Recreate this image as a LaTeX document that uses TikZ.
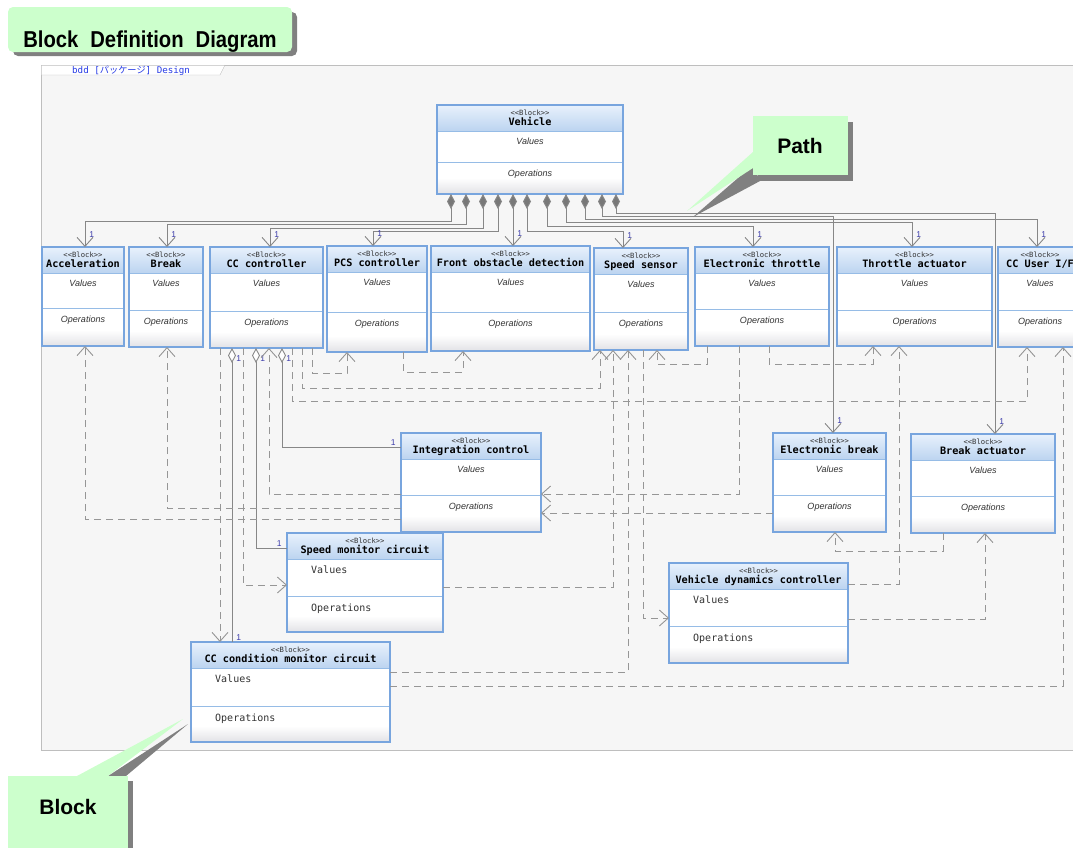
\documentclass[tikz,border=0pt]{standalone}
\usepackage{fontspec}
\usetikzlibrary{arrows.meta}
\newfontfamily\blkmono{DejaVu Sans Mono}
\newfontfamily\blksans{Liberation Sans}
\newfontfamily\titlefont[FakeStretch=0.88]{Liberation Sans}
\newfontfamily\cjk{Noto Sans CJK JP}
\definecolor{blkborder}{RGB}{120,165,222}
\definecolor{divblue}{RGB}{150,188,230}
\definecolor{hdtop}{RGB}{232,241,252}
\definecolor{hdbot}{RGB}{188,212,240}
\definecolor{opsbot}{RGB}{226,226,230}
\definecolor{linegray}{RGB}{135,135,135}
\definecolor{dashgray}{RGB}{150,150,150}
\definecolor{diagray}{RGB}{120,120,120}
\definecolor{txtgray}{RGB}{50,50,50}
\definecolor{multblue}{RGB}{60,60,170}
\definecolor{framebg}{RGB}{246,246,246}
\definecolor{framebd}{RGB}{190,190,190}
\definecolor{tabblue}{RGB}{40,60,230}
\definecolor{callgreen}{RGB}{204,255,204}
\definecolor{callshadow}{RGB}{128,128,128}

\newcommand{\cmpit}[5]{%
  \node[valit] (#1v) at ({#2+#4/2},{#3+39}) {Values};
  \node[valit] (#1o) at ({#2+#4/2},{#3+#5+14}) {Operations};}
\newcommand{\cmpmono}[5]{%
  \node[valmono] (#1v) at ({#2+24},{#3+40}) {Values};
  \node[valmono] (#1o) at ({#2+24},{#3+#5+15}) {Operations};}
\newcommand{\umlblock}[8]{%
  \fill[white] (#2,#3) rectangle ++(#4,#5);
  \shade[top color=white, bottom color=opsbot] ({#2},{#3+#5-16}) rectangle ++(#4,16);
  \shade[top color=hdtop, bottom color=hdbot] (#2,#3) rectangle ++(#4,26);
  \draw[divline] ({#2},{#3+26}) -- ++(#4,0);
  \draw[divline] ({#2},{#3+#6}) -- ++(#4,0);
  \node[blockbody, minimum width=#4, minimum height=#5] (#1) at (#2,#3) {};
  \node[stereo] (#1s) at ({#2+#4/2},{#3+10}) {<{}<Block>{}>};
  \node[bname] (#1n) at ({#2+#4/2},{#3+20}) {#7};
  #8{#1}{#2}{#3}{#4}{#6}}

\begin{document}
\begin{tikzpicture}[
x=1pt, y=-1pt,
blockbody/.style={draw=blkborder, line width=1.2pt, inner sep=0pt, outer sep=0pt, anchor=north west},
divline/.style={draw=divblue, line width=0.8pt},
stereo/.style={font=\blkmono\fontsize{7.2}{7}\selectfont, text=black!80, inner sep=0pt, anchor=base},
bname/.style={font=\blkmono\bfseries\fontsize{10.2}{10}\selectfont, inner sep=0pt, anchor=base},
valit/.style={font=\blksans\itshape\fontsize{9}{9}\selectfont, text=txtgray, inner sep=0pt, anchor=base},
valmono/.style={font=\blkmono\fontsize{10}{10}\selectfont, text=txtgray, inner sep=0pt, anchor=base west},
comp/.style={draw=linegray, line width=0.9pt, arrows={Diamond[length=15pt,width=8pt,fill=diagray]-Straight Barb[length=9pt,width=16pt]}},
aggr/.style={draw=linegray, line width=0.9pt, arrows={Diamond[length=15pt,width=8pt,fill=white]-}},
dep/.style={draw=dashgray, line width=0.9pt, dash pattern=on 7pt off 5pt, arrows={-Straight Barb[length=9pt,width=16pt]}},
mult/.style={font=\blksans\fontsize{8.5}{8}\selectfont, text=multblue, inner sep=0pt},
callout/.style={fill=callgreen},
calltext/.style={font=\blksans\bfseries\fontsize{21}{21}\selectfont, inner sep=0pt, anchor=base},
]
\useasboundingbox (0,0) rectangle (1073,847);
\clip (0,0) rectangle (1073,847);

\fill[framebg] (41,65) rectangle (1090,750);
\draw[framebd] (41,750) -- (41,65) -- (1090,65);
\draw[framebd] (1090,750) -- (41,750);
\fill[white] (41.5,65.5) -- (224.5,65.5) -- (219.5,75) -- (41.5,75) -- cycle;
\draw[framebd] (41,75) -- (220,75) -- (225,65);
\node[font=\blkmono\fontsize{9.2}{9}\selectfont, text=tabblue, anchor=base west, inner sep=0pt] (frame) at (72,73) {bdd [{\cjk パッケージ}] Design};

\umlblock{veh}{437}{105}{186}{89}{57}{Vehicle}{\cmpit}
\umlblock{acc}{42}{247}{82}{99}{61}{Acceleration}{\cmpit}
\umlblock{brk}{129}{247}{74}{100}{63}{Break}{\cmpit}
\umlblock{ccc}{210}{247}{113}{101}{64}{CC controller}{\cmpit}
\umlblock{pcs}{327}{246}{100}{106}{66}{PCS controller}{\cmpit}
\umlblock{front}{431}{246}{159}{105}{66}{Front obstacle detection}{\cmpit}
\umlblock{spd}{594}{248}{94}{102}{64}{Speed sensor}{\cmpit}
\umlblock{ethr}{695}{247}{134}{99}{62}{Electronic throttle}{\cmpit}
\umlblock{tact}{837}{247}{155}{99}{63}{Throttle actuator}{\cmpit}
\umlblock{ccui}{998}{247}{84}{100}{63}{CC User I/F}{\cmpit}
\umlblock{integ}{401}{433}{140}{99}{62}{Integration control}{\cmpit}
\umlblock{ebrk}{773}{433}{113}{99}{62}{Electronic break}{\cmpit}
\umlblock{bact}{911}{434}{144}{99}{62}{Break actuator}{\cmpit}
\umlblock{smc}{287}{533}{156}{99}{63}{Speed monitor circuit}{\cmpmono}
\umlblock{vdc}{669}{563}{179}{100}{63}{Vehicle dynamics controller}{\cmpmono}
\umlblock{ccm}{191}{642}{199}{100}{64}{CC condition monitor circuit}{\cmpmono}

\draw[comp] (veh.south -| 451,0) -- ++(0,27) -| (acc.north -| 85,0) node[mult, at end, anchor=south west, xshift=4pt, yshift=9pt] (m1) {1};
\draw[comp] (veh.south -| 466,0) -- ++(0,30) -| (brk.north -| 167,0) node[mult, at end, anchor=south west, xshift=4pt, yshift=9pt] (m2) {1};
\draw[comp] (veh.south -| 483,0) -- ++(0,34) -| (ccc.north -| 270,0) node[mult, at end, anchor=south west, xshift=4pt, yshift=9pt] (m3) {1};
\draw[comp] (veh.south -| 498,0) -- ++(0,37) -| (pcs.north -| 373,0) node[mult, at end, anchor=south west, xshift=4pt, yshift=9pt] (m4) {1};
\draw[comp] (veh.south -| 513,0) -- (front.north -| 513,0) node[mult, at end, anchor=south west, xshift=4pt, yshift=9pt] (m5) {1};
\draw[comp] (veh.south -| 527,0) -- ++(0,37) -| (spd.north -| 623,0) node[mult, at end, anchor=south west, xshift=4pt, yshift=9pt] (m6) {1};
\draw[comp] (veh.south -| 547,0) -- ++(0,32) -| (ethr.north -| 753,0) node[mult, at end, anchor=south west, xshift=4pt, yshift=9pt] (m7) {1};
\draw[comp] (veh.south -| 566,0) -- ++(0,28) -| (tact.north -| 912,0) node[mult, at end, anchor=south west, xshift=4pt, yshift=9pt] (m8) {1};
\draw[comp] (veh.south -| 585,0) -- ++(0,25) -| (ccui.north -| 1037,0) node[mult, at end, anchor=south west, xshift=4pt, yshift=9pt] (m9) {1};
\draw[comp] (veh.south -| 602,0) -- ++(0,22) -| (ebrk.north -| 833,0) node[mult, at end, anchor=south west, xshift=4pt, yshift=9pt] (m10) {1};
\draw[comp] (veh.south -| 616,0) -- ++(0,19) -| (bact.north -| 995,0) node[mult, at end, anchor=south west, xshift=4pt, yshift=9pt] (m11) {1};

\draw[aggr] (ccc.south -| 232,0) -- (ccm.north -| 232,0) node[mult, at start, anchor=north west, xshift=4pt, yshift=-7pt] (m12) {1} node[mult, at end, anchor=south west, xshift=4pt, yshift=1pt] (m13) {1};
\draw[aggr] (ccc.south -| 256,0) |- (smc.west |- 0,548) node[mult, at start, anchor=north west, xshift=4pt, yshift=-7pt] (m14) {1} node[mult, at end, anchor=south east, xshift=-5pt, yshift=1pt] (m15) {1};
\draw[aggr] (ccc.south -| 282,0) |- (integ.west |- 0,447) node[mult, at start, anchor=north west, xshift=4pt, yshift=-7pt] (m16) {1} node[mult, at end, anchor=south east, xshift=-5pt, yshift=1pt] (m17) {1};

\draw[dep] (integ.west |- 0,519) -| (acc.south -| 85,0);
\draw[dep] (integ.west |- 0,508) -| (brk.south -| 167,0);
\draw[dep] (integ.west |- 0,494) -| (ccc.south -| 269,0);
\draw[dep] (ccc.south -| 312,0) -- ++(0,25) -| (pcs.south -| 347,0);
\draw[dep] (pcs.south -| 403,0) -- ++(0,20) -| (front.south -| 463,0);
\draw[dep] (ccc.south -| 302,0) -- ++(0,40) -| (spd.south -| 600,0);
\draw[dep] (ccc.south -| 292,0) -- ++(0,53) -| (ccui.south -| 1027,0);
\draw[dep] (ccc.south -| 220,0) -- (ccm.north -| 220,0);
\draw[dep] (ccc.south -| 243,0) |- (smc.west |- 0,585);
\draw[dep] (ethr.south -| 707,0) -- ++(0,18) -| (spd.south -| 657,0);
\draw[dep] (ethr.south -| 739,0) |- (integ.east |- 0,494);
\draw[dep] (ebrk.west |- 0,513) -- (integ.east |- 0,513);
\draw[dep] (ethr.south -| 769,0) -- ++(0,18) -| (tact.south -| 873,0);
\draw[dep] (vdc.east |- 0,584) -| (tact.south -| 899,0);
\draw[dep] (vdc.east |- 0,619) -| (bact.south -| 985,0);
\draw[dep] (bact.south -| 943,0) -- ++(0,18) -| (ebrk.south -| 835,0);
\draw[dep] (ccm.east |- 0,686) -| (ccui.south -| 1063,0);
\draw[dep] (ccm.east |- 0,672) -| (spd.south -| 628,0);
\draw[dep] (smc.east |- 0,587) -| (spd.south -| 613,0);
\draw[dep] (spd.south -| 643,0) |- (vdc.west |- 0,618);

\fill[callshadow, rounded corners=5] (13,12) rectangle (297,56);
\fill[callout, rounded corners=5] (8,7) rectangle (292,52);
\node[calltext, font=\titlefont\bfseries\fontsize{23}{23}\selectfont] (title) at (150,47) {Block\hspace{12pt}Definition\hspace{12pt}Diagram};

\fill[callshadow] (758,122) rectangle (853,181);
\fill[callshadow] (753,165) -- (760,181) -- (693,217) -- cycle;
\fill[callout] (753,152) -- (687,211) -- (753,168) -- cycle;
\fill[callout] (753,116) rectangle (848,175);
\node[calltext] (path) at (800,153) {Path};

\fill[callshadow] (13,781) rectangle (133,860);
\fill[callshadow] (108,776) -- (188,724) -- (126,776) -- cycle;
\fill[callout] (77,776) -- (183,719) -- (108,776) -- cycle;
\fill[callout] (8,776) rectangle (128,860);
\node[calltext] (block) at (68,814) {Block};
\end{tikzpicture}
\end{document}
